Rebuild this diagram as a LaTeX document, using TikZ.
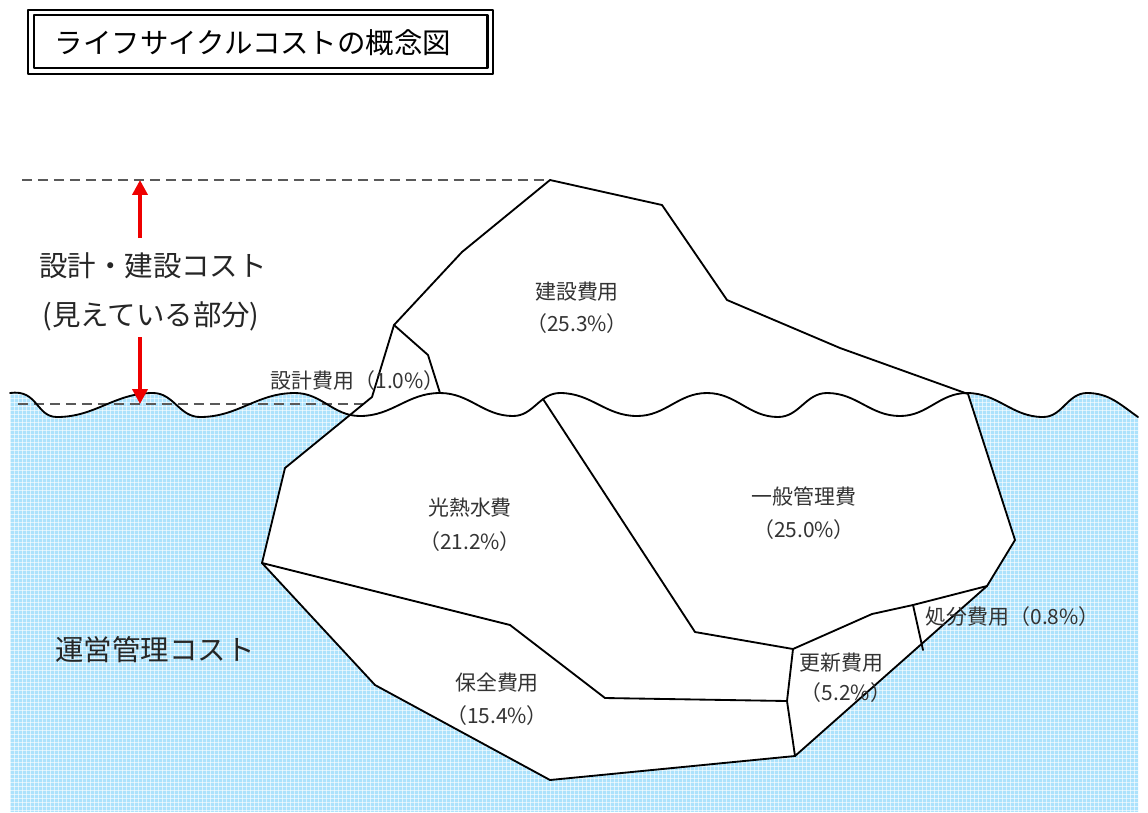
\documentclass[tikz,border=0pt]{standalone}
\usepackage{fontspec}
\setmainfont{Noto Sans CJK JP}
\usetikzlibrary{arrows.meta}

\definecolor{sea}{RGB}{172,226,252}
\definecolor{arrowred}{RGB}{238,0,0}

% The surface of the water, from the left edge to the right edge.
\newcommand{\waterline}{%
  (10,393) .. controls (38,389) and (36,417) .. (57,417)
  to[out=0,in=180] (153,393) to[out=0,in=180] (200,417)
  to[out=0,in=180] (295,393) to[out=0,in=180] (360,416)
  to[out=0,in=180] (440,393) to[out=0,in=180] (513,416)
  to[out=0,in=180] (560,393) to[out=0,in=180] (637,416)
  to[out=0,in=180] (707,393) to[out=0,in=180] (778,417)
  to[out=0,in=180] (827,393) to[out=0,in=180] (900,416)
  to[out=0,in=180] (967,393) to[out=0,in=180] (1043,417)
  to[out=0,in=180] (1087,393) to[out=0,in=145] (1138,417)}

\begin{document}
\begin{tikzpicture}[x=0.02cm, y=-0.02cm, line width=1.05pt, line cap=round, line join=round,
    part/.style={inner sep=0pt, font=\fontsize{11.9pt}{14pt}\selectfont, text=black!80},
    big/.style={inner sep=0pt, font=\fontsize{16.2pt}{19pt}\selectfont, text=black!85},
    level/.style={black!65, line width=1.1pt, line cap=butt, dash pattern=on 5.7pt off 3.4pt},
    height/.style={arrowred, line width=2.3pt, line cap=butt,
        -{Triangle[length=8.5pt,width=8.5pt]}}]

    \useasboundingbox (0,0) rectangle (1148,812);

    % Positions of the corners of the iceberg.
    \coordinate (a) at (550,180);
    \coordinate (b) at (662,205);
    \coordinate (c) at (727,300);
    \coordinate (d) at (840,348);
    \coordinate (e) at (968,394);
    \coordinate (f) at (1015,540);
    \coordinate (g) at (987,586);
    \coordinate (h) at (795,756);
    \coordinate (i) at (550,780);
    \coordinate (j) at (375,685);
    \coordinate (k) at (262,563);
    \coordinate (l) at (285,468);
    \coordinate (m) at (372,397);
    \coordinate (n) at (394,325);
    \coordinate (o) at (462,252);

    % Corners of the inner pieces.
    \coordinate (p) at (428,355);
    \coordinate (q) at (440,393);
    \coordinate (r) at (543,399);
    \coordinate (s) at (695,632);
    \coordinate (t) at (793,649);
    \coordinate (u) at (872,614);
    \coordinate (v) at (913,605);
    \coordinate (w) at (923,650);
    \coordinate (x) at (510,625);
    \coordinate (y) at (605,698);
    \coordinate (z) at (787,701);

    % The sea below the surface, with its fine grid.
    \begin{scope}
        \clip \waterline -- (1138,812) -- (10,812) -- cycle;
        \fill[sea] (0,380) rectangle (1148,812);
        \foreach \gx in {10,14,...,1146}
            \draw[white, line width=0.45pt, opacity=0.6, line cap=butt] (\gx,380) -- (\gx,812);
        \foreach \gy in {382,386,...,812}
            \draw[white, line width=0.45pt, opacity=0.6, line cap=butt] (0,\gy) -- (1148,\gy);
    \end{scope}

    % Levels of the top and of the water.
    \draw[level] (22,180) -- (a);
    \draw[level] (18,404) -- (363,404);

    % The iceberg itself.
    \draw[fill=white] (a) -- (b) -- (c) -- (d) -- (e) -- (f) -- (g) -- (h)
        -- (i) -- (j) -- (k) -- (l) -- (m) -- (n) -- (o) -- cycle;

    % Lines between the pieces.
    \draw (n) -- (p) -- (q);
    \draw (r) -- (s) -- (t) -- (u) -- (v) -- (g);
    \draw (k) -- (x) -- (y) -- (z);
    \draw (t) -- (z) -- (h);
    \draw (v) -- (w);

    % The wave over everything.
    \draw \waterline;

    % Height of the part above the water.
    \coordinate (up) at (140,180);
    \coordinate (down) at (140,404);
    \node[big] (visible) at (153,266) {設計・建設コスト};
    \node[big] (visible2) at (151,316) {(見えている部分)};
    \draw[height] (140,238) -- (up);
    \draw[height] (140,337) -- (down);

    % Names of the pieces.
    \node[part] (build) at (577,292) {建設費用};
    \node[part] (build2) at (577,324) {（25.3\%）};
    \node[part, anchor=west] (design) at (270,381) {設計費用（1.0\%）};
    \node[part] (energy) at (470,508) {光熱水費};
    \node[part] (energy2) at (470,542) {（21.2\%）};
    \node[part] (admin) at (804,497) {一般管理費};
    \node[part] (admin2) at (804,530) {（25.0\%）};
    \node[part] (keep) at (497,683) {保全費用};
    \node[part] (keep2) at (497,716) {（15.4\%）};
    \node[part, anchor=west] (renew) at (799,663) {更新費用};
    \node[part, anchor=west] (renew2) at (800,693) {（5.2\%）};
    \node[part, anchor=west] (disposal) at (925,617) {処分費用（0.8\%）};

    \node[big] (running) at (155,650) {運営管理コスト};

    % Title in a double frame.
    \draw[line width=1.3pt, line cap=butt] (28,10) rectangle (493,74);
    \draw[line width=1.7pt, line cap=butt] (34,15) rectangle (487,68);
    \node[big, text=black] (title) at (253,43) {ライフサイクルコストの概念図};
\end{tikzpicture}
\end{document}
